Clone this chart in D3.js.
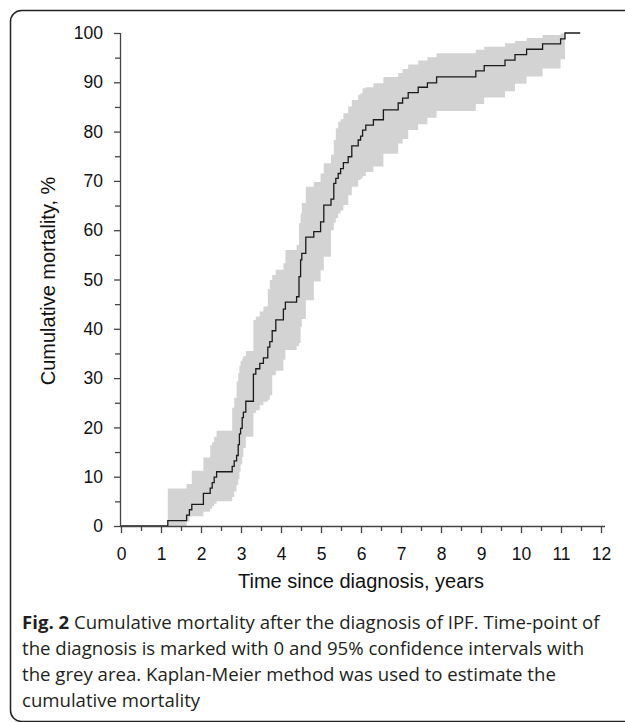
<!DOCTYPE html>
<html><head><meta charset="utf-8">
<script src="https://cdn.jsdelivr.net/npm/d3@7"></script>
<style>body{margin:0;background:#fff}svg{display:block}</style>
</head><body>
<svg id="c" width="625" height="722"></svg>
<script>
const times = [0,1.17,1.64,1.71,1.77,2.06,2.23,2.28,2.33,2.39,2.78,2.83,2.89,2.93,2.96,2.99,3.03,3.06,3.12,3.31,3.37,3.47,3.56,3.67,3.72,3.78,3.87,4.06,4.11,4.39,4.45,4.49,4.52,4.62,4.82,4.99,5.07,5.25,5.32,5.37,5.43,5.49,5.56,5.68,5.77,5.93,5.99,6.04,6.12,6.31,6.56,6.93,7.04,7.18,7.43,7.66,7.89,8.87,9.08,9.6,9.85,10.14,10.54,10.99,11.1,11.48];
const mortality = [0,1.1,2.2,3.3,4.4,6.6,7.7,8.8,9.9,11.0,12.1,13.2,14.3,16.5,18.7,19.8,22.0,23.1,25.3,30.8,31.9,33.0,34.1,36.3,37.4,39.6,41.8,44.0,45.4,46.5,50.6,54.0,55.3,58.6,59.7,61.7,65.1,66.3,69.5,70.5,71.5,72.5,73.7,74.9,77.1,78.3,79.1,80.3,81.3,82.4,84.4,85.8,86.8,87.9,89.0,89.9,91.1,92.3,93.4,94.5,95.6,96.7,97.8,98.8,100,100];
const lowerCI = [0,0,0.9,1.9,2.0,2.9,3.5,4.0,4.5,5.0,5.9,7.0,8.3,9.5,11.0,12.5,14.0,15.8,18.1,22.9,23.5,24.5,25.2,25.6,26.5,30.6,31.5,33.7,35.7,36.5,37.1,40.4,42.0,45.8,49.6,51.9,54.6,60.0,61.5,62.5,63.4,64.0,65.1,67.1,68.8,70.2,70.5,71.0,71.8,72.9,75.5,77.6,78.5,80.3,81.5,82.8,84.2,85.6,86.9,88.2,89.7,91.2,92.8,94.7,100,null];
const upperCI = [0,7.6,8.5,8.5,11.2,13.9,16.4,17.0,18.1,19.3,24.0,26.0,29.3,31.0,32.5,33.5,34.0,34.5,35.5,41.8,42.5,43.5,44.5,48.0,49.9,50.9,52.0,53.3,56.0,57.0,61.4,63.4,65.5,68.8,69.8,71.5,73.6,75.3,78.3,80.7,82.0,82.5,83.7,85.1,86.4,87.5,87.8,88.8,89.0,89.8,91.1,91.9,92.7,93.6,94.4,95.1,95.9,96.6,97.2,97.9,98.4,99.0,99.6,99.9,100,null];
const xTicks = [0,1,2,3,4,5,6,7,8,9,10,11,12];
const yTicks = [0,10,20,30,40,50,60,70,80,90,100];

const svg = d3.select('#c');
const x = d3.scaleLinear().domain([0,12]).range([121,601]);
const y = d3.scaleLinear().domain([0,100]).range([526,33]);

// frame
svg.append('rect').attr('x',10.5).attr('y',10.5).attr('width',700).attr('height',711)
  .attr('rx',11).attr('fill','none').attr('stroke','#222').attr('stroke-width',1.5);

const pts = times.map((t,i)=>({t, m:mortality[i], lo:lowerCI[i], hi:upperCI[i]}));
const band = pts.filter(d=>d.lo!==null && d.t>=1.17);

svg.append('path').datum(band)
  .attr('d', d3.area().curve(d3.curveStepAfter).x(d=>x(d.t)).y0(d=>y(d.lo)).y1(d=>y(d.hi)))
  .attr('fill','#d3d3d3');

svg.append('path').datum(pts)
  .attr('d', d3.line().curve(d3.curveStepAfter).x(d=>x(d.t)).y(d=>y(d.m)))
  .attr('fill','none').attr('stroke','#1a1a1a').attr('stroke-width',1.3);

// axes
const axCol = '#444';
const font = '"Liberation Sans", Arial, sans-serif';
const gy = svg.append('g').attr('transform','translate(120,0)');
gy.call(d3.axisLeft(y).tickValues(yTicks).tickSize(6).tickPadding(11).tickFormat(d3.format('d')));
const gym = svg.append('g').attr('transform','translate(120,0)');
gym.call(d3.axisLeft(y).tickValues(d3.range(5,100,10)).tickSize(5).tickFormat(''));
gym.select('.domain').remove();

const gx = svg.append('g').attr('transform','translate(0,526)');
gx.call(d3.axisBottom(x).tickValues(xTicks).tickSize(7).tickPadding(15).tickFormat(d3.format('d')));
const gxm = svg.append('g').attr('transform','translate(0,526)');
gxm.call(d3.axisBottom(x).tickValues(d3.range(0.5,12,1)).tickSize(5).tickFormat(''));
gxm.select('.domain').remove();

gy.select('.domain').attr('d','M0.5,'+y(0)+'V'+y(100));
gx.select('.domain').attr('d','M120,0.5H605');
svg.selectAll('.tick line,.domain').attr('stroke',axCol).attr('stroke-width',1.3);
svg.selectAll('.tick text').attr('font-family',font).attr('font-size',17.5).attr('fill','#111');

svg.append('text').attr('x',361).attr('y',588).attr('text-anchor','middle')
  .attr('font-family',font).attr('font-size',20).attr('fill','#111')
  .text('Time since diagnosis, years');
svg.append('text').attr('transform','translate(55,281) rotate(-90)').attr('text-anchor','middle')
  .attr('font-family',font).attr('font-size',20).attr('fill','#111')
  .text('Cumulative mortality, %');

const capLines = [
  [['Fig. 2',true],[' Cumulative mortality after the diagnosis of IPF. Time-point of',false]],
  [['the diagnosis is marked with 0 and 95% confidence intervals with',false]],
  [['the grey area. Kaplan-Meier method was used to estimate the',false]],
  [['cumulative mortality',false]]
];
capLines.forEach((ln,i)=>{
  const t = svg.append('text').attr('x',22).attr('y',629+i*26)
    .attr('font-family','"Open Sans", "Noto Sans", sans-serif').attr('font-size',18.6).attr('fill','#231f20');
  ln.forEach(([s,b])=>t.append('tspan').attr('font-weight',b?'bold':'normal').text(s));
});
</script>
</body></html>
